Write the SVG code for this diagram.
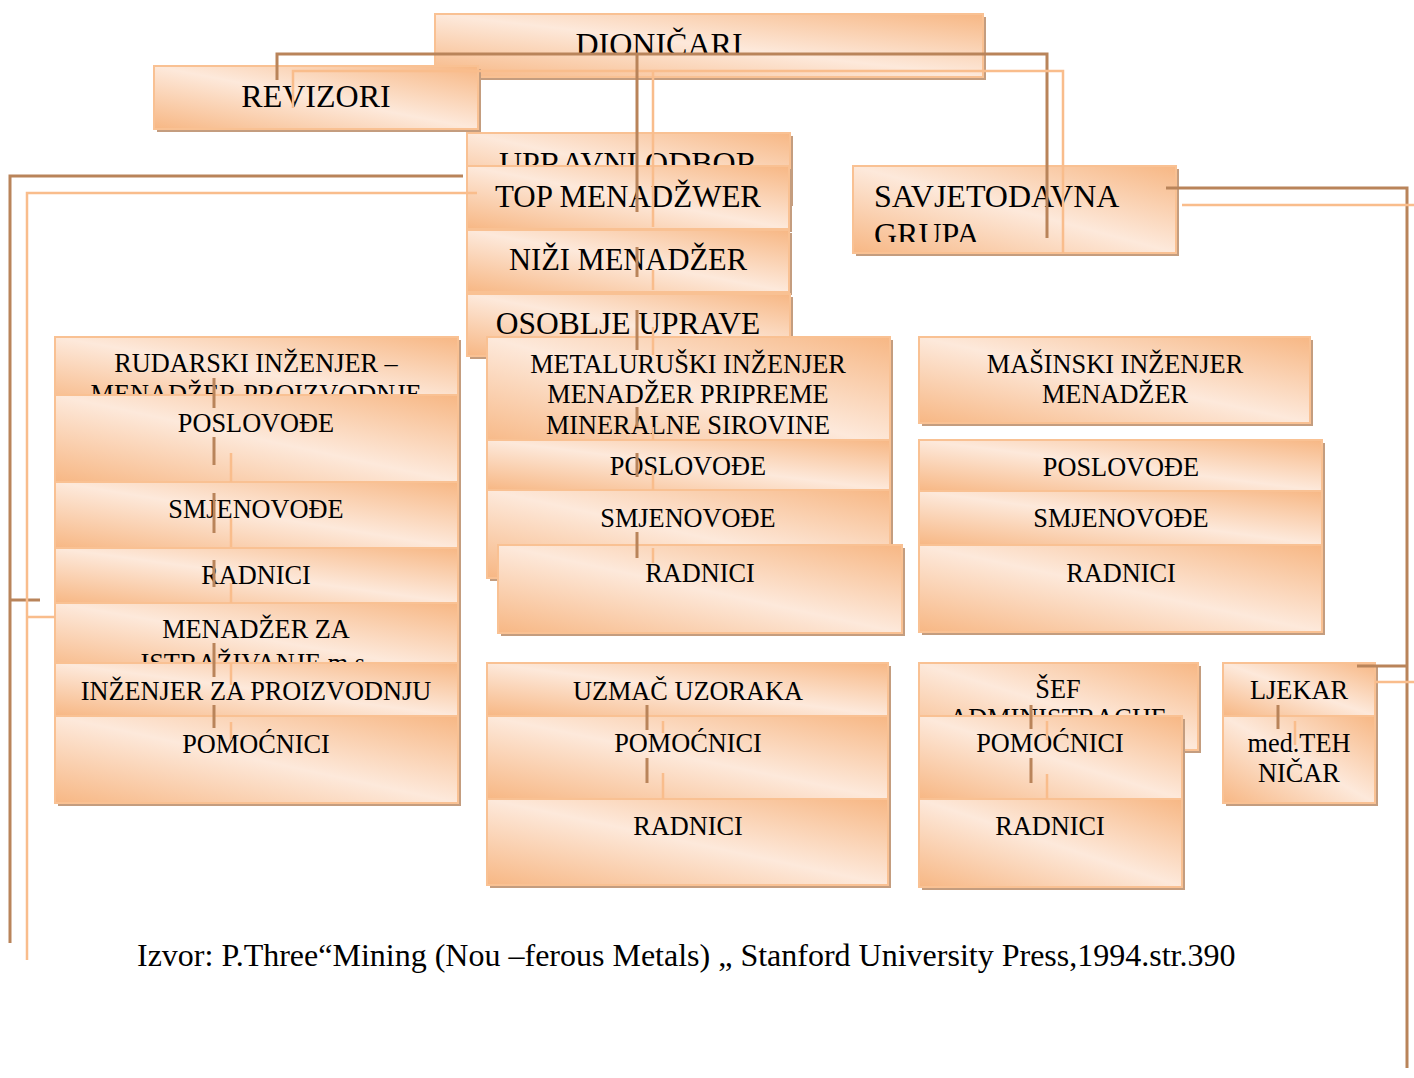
<svg xmlns="http://www.w3.org/2000/svg" width="1414" height="1078" viewBox="0 0 1414 1078">
<defs>
  <linearGradient id="fillG" x1="1" y1="0" x2="0" y2="1">
    <stop offset="0" stop-color="#F7B784"/>
    <stop offset="0.5" stop-color="#FDE9DB"/>
    <stop offset="1" stop-color="#F7B784"/>
  </linearGradient>
  <clipPath id="clipSav"><rect x="853" y="166" width="323" height="76"/></clipPath>
</defs>
<style>
  .sh{fill:#C49D7F}
  .bx{fill:url(#fillG);stroke:#F9C193;stroke-width:2}
  .t{font-family:"Liberation Serif","Times New Roman",serif;font-size:26.3px;fill:#000;text-anchor:middle}
  .big{font-size:32px}
  .dk{fill:none;stroke:#B9845A;stroke-width:3}
  .lt{fill:none;stroke:#F9BD8C;stroke-width:2.5}
</style>
<rect width="1414" height="1078" fill="#fff"/>

<!-- top level -->
<g id="dionicari"><rect class="sh" x="438" y="17" width="548" height="63"/><rect class="bx" x="435" y="14" width="548" height="63"/><text class="t big" x="659" y="55">DIONIČARI</text></g>
<g id="revizori"><rect class="sh" x="157" y="69" width="324" height="63"/><rect class="bx" x="154" y="66" width="324" height="63"/><text class="t big" x="316" y="107">REVIZORI</text></g>

<!-- management stack -->
<g id="upravni-odbor"><rect class="sh" x="470" y="136" width="323" height="70"/><rect class="bx" x="467" y="133" width="323" height="70"/><text class="t big" x="628" y="174">UPRAVNI ODBOR</text></g>
<g id="top-menadzer"><rect class="sh" x="470" y="169" width="322" height="63"/><rect class="bx" x="467" y="166" width="322" height="63"/><text class="t" style="font-size:31px" x="628" y="207">TOP MENADŽWER</text></g>
<g id="nizi-menadzer"><rect class="sh" x="470" y="233" width="322" height="62"/><rect class="bx" x="467" y="230" width="322" height="62"/><text class="t" style="font-size:30.5px" x="628" y="270">NIŽI MENADŽER</text></g>
<g id="osoblje-uprave"><rect class="sh" x="470" y="297" width="323" height="62"/><rect class="bx" x="467" y="294" width="323" height="62"/><text class="t" style="font-size:31.5px" x="628" y="334">OSOBLJE UPRAVE</text></g>

<g id="savjetodavna"><rect class="sh" x="856" y="169" width="323" height="87"/><rect class="bx" x="853" y="166" width="323" height="87"/>
  <g clip-path="url(#clipSav)"><text class="t big" style="text-anchor:start" x="874" y="207">SAVJETODAVNA</text><text class="t big" style="text-anchor:start" x="874" y="245">GRUPA</text></g></g>

<!-- mining column -->
<g id="rudarski"><rect class="sh" x="58" y="340" width="403" height="70"/><rect class="bx" x="55" y="337" width="403" height="70"/><text class="t" x="256" y="372">RUDARSKI INŽENJER –</text><text class="t" x="256" y="403">MENADŽER PROIZVODNJE</text></g>
<g id="poslovodje-l"><rect class="sh" x="58" y="398" width="403" height="87"/><rect class="bx" x="55" y="395" width="403" height="87"/><text class="t" x="256" y="432">POSLOVOĐE</text></g>
<g id="smjenovodje-l"><rect class="sh" x="58" y="485" width="403" height="66"/><rect class="bx" x="55" y="482" width="403" height="66"/><text class="t" x="256" y="518">SMJENOVOĐE</text></g>
<g id="radnici-l"><rect class="sh" x="58" y="551" width="403" height="55"/><rect class="bx" x="55" y="548" width="403" height="55"/><text class="t" x="256" y="584">RADNICI</text></g>
<g id="menadzer-istrazivanje"><rect class="sh" x="58" y="606" width="403" height="70"/><rect class="bx" x="55" y="603" width="403" height="70"/><text class="t" x="256" y="638">MENADŽER ZA</text><text class="t" x="256" y="672">ISTRAŽIVANJE m.s.</text></g>
<g id="inzenjer-proizvodnja"><rect class="sh" x="58" y="666" width="403" height="53"/><rect class="bx" x="55" y="663" width="403" height="53"/><text class="t" x="256" y="700">INŽENJER ZA PROIZVODNJU</text></g>
<g id="pomocnici-l"><rect class="sh" x="58" y="719" width="403" height="87"/><rect class="bx" x="55" y="716" width="403" height="87"/><text class="t" x="256" y="753">POMOĆNICI</text></g>

<!-- metallurgy column -->
<g id="metalurski"><rect class="sh" x="490" y="340" width="403" height="110"/><rect class="bx" x="487" y="337" width="403" height="110"/><text class="t" x="688" y="373">METALURUŠKI INŽENJER</text><text class="t" x="688" y="403">MENADŽER PRIPREME</text><text class="t" x="688" y="434">MINERALNE SIROVINE</text></g>
<g id="poslovodje-m"><rect class="sh" x="490" y="443" width="403" height="50"/><rect class="bx" x="487" y="440" width="403" height="50"/><text class="t" x="688" y="475">POSLOVOĐE</text></g>
<g id="smjenovodje-m"><rect class="sh" x="490" y="493" width="403" height="88"/><rect class="bx" x="487" y="490" width="403" height="88"/><text class="t" x="688" y="527">SMJENOVOĐE</text></g>
<g id="radnici-m"><rect class="sh" x="501" y="548" width="404" height="88"/><rect class="bx" x="498" y="545" width="404" height="88"/><text class="t" x="700" y="582">RADNICI</text></g>

<!-- mechanical column -->
<g id="masinski"><rect class="sh" x="922" y="340" width="391" height="86"/><rect class="bx" x="919" y="337" width="391" height="86"/><text class="t" x="1115" y="373">MAŠINSKI INŽENJER</text><text class="t" x="1115" y="403">MENADŽER</text></g>
<g id="poslovodje-r"><rect class="sh" x="922" y="443" width="403" height="51"/><rect class="bx" x="919" y="440" width="403" height="51"/><text class="t" x="1121" y="476">POSLOVOĐE</text></g>
<g id="smjenovodje-r"><rect class="sh" x="922" y="494" width="403" height="54"/><rect class="bx" x="919" y="491" width="403" height="54"/><text class="t" x="1121" y="527">SMJENOVOĐE</text></g>
<g id="radnici-r"><rect class="sh" x="922" y="548" width="403" height="87"/><rect class="bx" x="919" y="545" width="403" height="87"/><text class="t" x="1121" y="582">RADNICI</text></g>

<!-- sampling -->
<g id="uzmac"><rect class="sh" x="490" y="666" width="401" height="53"/><rect class="bx" x="487" y="663" width="401" height="53"/><text class="t" x="688" y="700">UZMAČ UZORAKA</text></g>
<g id="pomocnici-m"><rect class="sh" x="490" y="719" width="401" height="83"/><rect class="bx" x="487" y="716" width="401" height="83"/><text class="t" x="688" y="752">POMOĆNICI</text></g>
<g id="radnici-mb"><rect class="sh" x="490" y="802" width="401" height="86"/><rect class="bx" x="487" y="799" width="401" height="86"/><text class="t" x="688" y="835">RADNICI</text></g>

<!-- administration -->
<g id="sef-administracije"><rect class="sh" x="922" y="666" width="279" height="87"/><rect class="bx" x="919" y="663" width="279" height="87"/><text class="t" x="1058" y="698">ŠEF</text><text class="t" x="1058" y="727">ADMINISTRACIJE</text></g>
<g id="pomocnici-r"><rect class="sh" x="922" y="719" width="263" height="83"/><rect class="bx" x="919" y="716" width="263" height="83"/><text class="t" x="1050" y="752">POMOĆNICI</text></g>
<g id="radnici-rb"><rect class="sh" x="922" y="802" width="263" height="88"/><rect class="bx" x="919" y="799" width="263" height="88"/><text class="t" x="1050" y="835">RADNICI</text></g>

<!-- medical -->
<g id="ljekar"><rect class="sh" x="1226" y="666" width="152" height="53"/><rect class="bx" x="1223" y="663" width="152" height="53"/><text class="t" x="1299" y="699">LJEKAR</text></g>
<g id="med-tehnicar"><rect class="sh" x="1226" y="719" width="152" height="87"/><rect class="bx" x="1223" y="716" width="152" height="87"/><text class="t" x="1299" y="752">med.TEH</text><text class="t" x="1299" y="782">NIČAR</text></g>

<!-- connectors -->
<g id="connectors">
  <path class="dk" d="M277,80V54H1047V238"/>
  <path class="lt" d="M293,108V71H1063V253"/>
  <path class="dk" d="M637,54V212M637,247V277M637,310V350M637,407V427M637,453V477M637,532V558"/>
  <path class="lt" d="M653,71V227M653,270V290M653,327V355M653,427V440M653,468V490M653,548V563"/>
  <path class="dk" d="M463,176H10V943M10,600H40"/>
  <path class="lt" d="M477,193H27V960M27,617H55"/>
  <path class="dk" d="M1166,188H1407V1068M1357,666H1407"/>
  <path class="lt" d="M1182,205H1414M1375,682H1414"/>
  <path class="dk" d="M214,378V408M214,437V465M214,493V533M214,560V587M214,643V677M214,705V728"/>
  <path class="lt" d="M231,453V482M231,518V547M231,583V603M231,663V685M231,722V740"/>
  <path class="dk" d="M647,705V730M647,758V783M1031,705V729M1031,758V783M1278,705V729"/>
  <path class="lt" d="M663,721V733M663,773V799M1047,721V740M1047,774V799M1295,721V745"/>
</g>

<text class="t big" style="text-anchor:start" x="137" y="966">Izvor: P.Three“Mining (Nou –ferous Metals) „ Stanford University Press,1994.str.390</text>
</svg>
